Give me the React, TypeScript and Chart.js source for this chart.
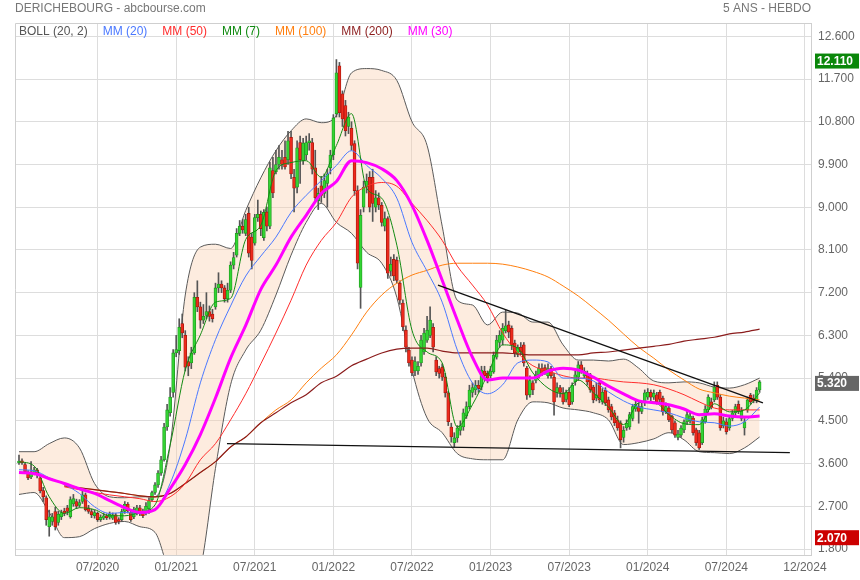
import React, { useEffect, useRef } from 'react';
import { Chart, registerables } from 'chart.js';

Chart.register(...registerables);

// ---- weekly candles (index 0 = first week shown) ----
const OPEN = [
  3.62,3.66,3.58,3.40,3.32,3.40,3.47,3.30,3.03,2.88,
  2.27,2.38,2.59,2.36,2.48,2.60,2.67,2.48,2.75,2.80,
  2.72,2.80,2.94,2.67,2.59,2.50,2.55,2.42,2.45,2.50,
  2.47,2.45,2.52,2.42,2.42,2.59,2.74,2.57,2.48,2.57,
  2.67,2.60,2.57,2.65,2.84,2.99,3.15,3.40,3.68,4.37,
  4.67,5.10,5.93,5.98,6.55,6.30,5.75,5.72,5.93,7.10,
  6.90,6.62,6.72,6.80,6.75,6.90,7.30,7.38,7.30,7.07,
  7.25,7.78,7.99,8.45,8.60,8.45,8.87,8.37,8.24,8.78,
  8.85,8.36,8.90,8.60,9.77,9.75,9.90,10.00,10.05,10.00,
  10.47,9.63,9.42,10.36,9.98,10.10,10.36,10.36,9.83,9.14,
  9.45,9.29,9.50,9.83,10.10,10.97,11.98,11.39,11.14,10.70,
  10.66,10.34,9.35,7.31,9.00,9.42,9.63,9.63,9.00,9.20,
  9.04,8.60,8.76,7.65,7.90,7.88,7.40,6.98,6.41,5.99,
  5.78,5.55,5.55,5.72,5.95,6.20,6.30,6.47,5.78,5.60,
  5.63,5.42,5.09,4.37,4.04,4.14,4.30,4.37,4.60,4.80,
  5.10,5.15,5.25,5.21,5.55,5.50,5.45,5.53,5.84,6.15,
  6.20,6.40,6.52,6.45,6.14,5.90,6.05,6.10,5.61,5.05,
  5.30,5.35,5.47,5.60,5.62,5.45,5.60,5.42,5.10,5.20,
  5.09,4.95,5.10,4.90,5.32,5.42,5.68,5.45,5.47,5.47,
  5.21,4.98,5.30,4.90,5.15,4.94,4.80,4.67,4.52,4.46,
  4.15,4.35,4.37,4.55,4.75,4.80,4.70,4.88,5.00,5.10,
  5.00,5.05,5.10,4.98,4.70,4.77,4.60,4.46,4.15,4.20,
  4.31,4.48,4.50,4.56,4.31,4.25,4.04,4.48,4.73,4.90,
  4.94,5.25,5.00,4.40,4.48,4.35,4.55,4.67,4.85,4.55,
  4.35,4.73,5.04,4.98,4.92,5.15,
];
const HIGH = [
  3.78,3.70,3.62,3.45,3.64,3.52,3.50,3.35,3.10,2.92,
  2.62,2.55,2.68,2.60,2.62,2.66,2.72,2.90,2.95,2.85,
  2.84,3.02,2.98,2.72,2.64,2.62,2.58,2.52,2.56,2.54,
  2.58,2.56,2.55,2.46,2.64,2.80,2.78,2.60,2.68,2.72,
  2.72,2.64,2.78,2.88,3.02,3.20,3.45,3.75,4.45,4.85,
  5.20,6.00,6.30,6.65,6.75,6.40,5.85,6.05,7.20,7.45,
  7.00,6.95,7.20,6.92,6.85,7.40,7.62,7.45,7.35,7.40,
  7.85,8.05,8.55,8.72,8.75,8.85,9.00,8.45,8.85,9.15,
  8.92,8.95,9.00,9.95,10.05,10.20,10.30,10.20,10.40,10.60,
  10.60,9.80,10.40,10.50,10.45,10.50,10.55,10.45,10.20,9.40,
  9.65,9.70,9.80,10.20,10.95,12.11,12.05,11.45,11.25,11.00,
  10.80,10.40,9.45,8.95,9.55,9.70,9.75,9.80,9.35,9.30,
  9.10,8.90,8.80,7.95,8.00,7.95,7.45,7.05,6.50,6.05,
  5.85,5.85,5.75,6.30,6.45,6.70,6.90,6.55,5.85,5.65,
  5.70,5.50,5.12,4.45,4.25,4.40,4.50,4.75,4.90,5.25,
  5.30,5.35,5.35,5.65,5.65,5.55,5.65,5.95,6.30,6.40,
  6.55,6.83,6.60,6.50,6.20,6.10,6.15,6.15,5.65,5.45,
  5.35,5.55,5.70,5.70,5.68,5.70,5.65,5.50,5.30,5.25,
  5.20,5.15,5.20,5.30,5.55,5.75,5.75,5.62,5.55,5.50,
  5.25,5.30,5.35,5.18,5.20,5.00,4.85,4.72,4.60,4.50,
  4.38,4.52,4.68,4.85,4.95,4.88,4.90,5.15,5.18,5.15,
  5.15,5.10,5.15,5.02,4.88,4.82,4.62,4.50,4.30,4.40,
  4.52,4.70,4.68,4.60,4.35,4.30,4.58,4.82,5.05,4.98,
  5.32,5.32,5.05,4.58,4.55,4.60,4.72,4.85,4.92,4.78,
  4.55,5.00,5.08,5.05,5.20,5.35,
];
const LOW = [
  3.58,3.58,3.40,3.26,3.28,3.36,3.30,2.98,2.80,2.30,
  2.07,2.30,2.20,2.30,2.42,2.50,2.52,2.45,2.70,2.65,
  2.68,2.76,2.60,2.55,2.46,2.45,2.38,2.38,2.42,2.42,
  2.43,2.42,2.32,2.33,2.38,2.55,2.56,2.38,2.44,2.52,
  2.50,2.46,2.52,2.55,2.80,2.95,3.10,3.35,3.65,4.30,
  4.60,5.00,5.85,5.90,6.25,5.55,5.45,5.60,5.90,6.80,
  6.45,6.55,6.65,6.60,6.58,6.85,7.20,7.20,7.00,7.00,
  7.20,7.70,7.95,8.40,8.45,8.40,7.95,7.70,8.20,8.70,
  8.40,8.30,8.50,8.55,9.20,9.70,9.80,9.80,9.80,9.90,
  9.60,8.90,9.30,9.50,9.90,10.00,10.20,9.70,9.10,8.95,
  9.10,9.20,9.00,9.70,10.00,10.90,10.90,10.70,10.50,10.55,
  10.20,9.25,7.70,6.87,8.90,9.30,8.90,8.70,8.90,8.95,
  8.60,8.50,7.50,7.55,7.45,7.40,6.95,6.40,5.95,5.65,
  5.45,5.45,5.48,5.65,5.90,6.15,6.25,5.95,5.45,5.40,
  5.35,5.00,4.40,4.05,3.95,4.05,4.20,4.30,4.55,4.75,
  5.00,5.05,5.10,5.15,5.35,5.30,5.40,5.50,5.80,6.05,
  6.10,6.35,6.25,6.00,5.85,5.85,5.90,5.65,4.95,5.00,
  5.05,5.30,5.40,5.45,5.48,5.40,5.40,4.62,5.00,5.00,
  4.85,4.90,4.80,4.85,5.25,5.35,5.50,5.40,5.25,5.10,
  4.88,4.92,4.88,4.85,4.82,4.68,4.52,4.40,4.30,3.93,
  4.05,4.30,4.32,4.50,4.70,4.45,4.65,4.82,4.95,4.92,
  4.95,4.85,4.88,4.62,4.65,4.48,4.25,4.15,4.10,4.15,
  4.25,4.42,4.45,4.20,3.98,3.90,4.00,4.45,4.68,4.75,
  4.90,4.95,4.30,4.35,4.22,4.30,4.50,4.62,4.65,4.50,
  4.20,4.68,4.85,4.88,4.88,5.10,
];
const CLOSE = [
  3.65,3.62,3.43,3.30,3.40,3.47,3.38,3.03,2.90,2.42,
  2.48,2.48,2.27,2.53,2.57,2.55,2.59,2.84,2.86,2.70,
  2.78,2.94,2.63,2.59,2.52,2.57,2.42,2.47,2.50,2.46,
  2.53,2.52,2.36,2.38,2.59,2.74,2.60,2.42,2.63,2.67,
  2.55,2.50,2.70,2.82,2.99,3.15,3.40,3.68,4.37,4.73,
  5.00,5.93,6.00,6.47,6.35,5.63,5.65,5.93,7.10,6.90,
  6.62,6.70,6.80,6.70,6.65,7.30,7.38,7.30,7.07,7.25,
  7.78,7.94,8.45,8.60,8.52,8.74,8.03,7.88,8.78,8.85,
  8.55,8.89,8.60,9.83,9.30,9.90,10.05,9.90,9.85,10.40,
  9.70,9.40,10.25,10.00,10.35,10.36,10.40,9.80,9.20,9.29,
  9.25,9.56,9.70,10.10,10.88,11.83,10.99,10.86,10.61,10.90,
  10.30,9.35,7.82,8.83,9.42,9.55,9.00,9.08,9.20,9.05,
  8.68,8.76,7.61,7.80,7.55,7.46,7.04,6.48,6.05,5.72,
  5.51,5.75,5.65,6.20,6.35,6.41,6.62,6.05,5.53,5.50,
  5.42,5.09,4.48,4.16,4.14,4.35,4.40,4.67,4.80,5.15,
  5.20,5.25,5.18,5.57,5.45,5.40,5.55,5.88,6.20,6.30,
  6.45,6.50,6.37,6.10,5.93,6.05,5.95,5.72,5.04,5.35,
  5.15,5.47,5.61,5.50,5.55,5.60,5.45,4.90,5.20,5.10,
  4.90,5.10,4.84,5.25,5.47,5.68,5.55,5.55,5.32,5.15,
  4.94,5.05,4.94,5.10,4.88,4.73,4.58,4.46,4.35,4.10,
  4.30,4.45,4.63,4.80,4.85,4.70,4.80,5.09,5.10,5.00,
  5.08,4.90,4.95,4.69,4.80,4.52,4.31,4.20,4.22,4.35,
  4.48,4.63,4.60,4.25,4.04,3.93,4.52,4.75,5.00,4.80,
  5.21,5.00,4.35,4.50,4.27,4.55,4.67,4.80,4.70,4.70,
  4.48,4.94,4.90,4.92,5.15,5.32,
];

// ---- indicator lines, one value every LINE_STEP weeks ----
const LINE_STEP = 5;
const MM7 = [
  3.64,3.55,2.90,2.55,2.67,2.63,2.50,2.50,2.57,2.73,
  3.99,5.57,6.31,7.00,7.08,8.32,8.62,9.77,9.94,9.98,
  9.63,10.30,10.97,9.40,9.19,8.20,6.41,5.95,5.72,4.37,
  4.84,5.47,6.10,6.03,5.51,5.19,5.07,5.36,5.09,4.79,
  4.42,4.88,4.90,4.63,4.44,4.42,4.86,4.69,4.73,5.09,
];
const MM20 = [
  3.47,3.45,3.30,3.16,2.97,2.69,2.55,2.57,2.55,2.63,
  3.18,4.10,5.30,6.21,6.92,7.55,7.97,8.37,8.89,9.25,
  9.56,9.88,10.19,9.88,9.61,9.19,8.26,7.65,7.00,5.99,
  5.30,5.07,5.26,5.72,5.78,5.74,5.40,5.40,5.34,5.11,
  4.92,4.79,4.73,4.67,4.56,4.48,4.46,4.39,4.48,4.79,
];
const MM30 = [
  3.41,3.39,3.28,3.18,3.07,2.97,2.82,2.67,2.57,2.63,
  3.07,3.58,4.21,4.98,5.82,6.51,7.27,7.78,8.37,8.83,
  9.29,9.54,9.98,9.94,9.81,9.56,9.04,8.30,7.46,6.62,
  5.84,5.36,5.40,5.40,5.40,5.55,5.61,5.57,5.42,5.23,
  5.07,4.92,4.88,4.84,4.75,4.63,4.65,4.60,4.58,4.60,
];
const MM50 = [
  null,null,null,3.11,3.05,2.99,2.94,2.90,2.86,2.80,
  2.90,3.18,3.68,4.02,4.52,5.07,5.70,6.35,7.04,7.78,
  8.30,8.68,9.21,9.44,9.52,9.44,9.08,8.72,8.30,7.76,
  7.36,6.94,6.35,5.93,5.66,5.55,5.45,5.40,5.40,5.36,
  5.32,5.30,5.26,5.17,5.05,4.90,4.77,4.73,4.73,4.73,
];
const MM100 = [
  null,null,null,3.13,3.09,3.05,3.01,2.97,2.92,2.90,
  2.97,3.18,3.41,3.64,3.95,4.16,4.46,4.73,4.94,5.30,
  5.61,5.89,6.31,6.79,7.15,7.40,7.57,7.67,7.78,7.82,
  7.82,7.82,7.80,7.74,7.65,7.53,7.34,7.13,6.88,6.62,
  6.33,6.05,5.82,5.57,5.36,5.17,5.09,5.02,4.98,4.94,
];
const MM200 = [
  null,null,null,3.13,3.09,3.05,3.01,2.97,2.92,2.90,
  2.97,3.18,3.41,3.64,3.95,4.16,4.46,4.67,4.88,5.05,
  5.30,5.44,5.66,5.80,5.93,6.01,6.03,6.03,5.97,5.93,
  5.93,5.93,5.93,5.91,5.89,5.89,5.89,5.89,5.93,5.95,
  5.99,6.03,6.07,6.11,6.18,6.22,6.26,6.33,6.37,6.43,
];
const BOLL_UP = [
  3.85,3.85,4.02,4.14,3.93,3.18,2.90,2.88,2.90,2.90,
  3.99,7.15,8.16,8.22,8.13,8.93,9.62,10.19,10.61,10.86,
  10.78,10.93,11.83,11.92,11.88,11.67,10.80,10.30,8.60,7.04,
  6.94,6.52,6.79,6.77,6.58,6.58,6.10,5.78,5.78,5.76,
  5.80,5.61,5.34,5.30,5.32,5.30,5.21,5.19,5.26,5.40,
];
const BOLL_LOW = [
  2.95,2.99,2.57,2.04,2.06,2.23,2.34,2.38,2.27,2.15,
  1.26,0.74,1.37,3.50,5.26,5.99,6.41,7.15,7.99,8.68,
  9.08,8.68,8.45,8.05,7.82,7.10,5.57,4.56,4.25,3.81,
  3.70,3.68,3.68,4.52,4.90,4.88,4.77,4.73,4.67,4.52,
  4.00,4.04,4.12,4.25,4.10,3.85,3.83,3.81,3.93,4.16,
];

// ---- hand-drawn trend lines: [week, price] end points ----
const TREND_DOWN = [[138.6, 7.36], [246.1, 4.88]];
const TREND_FLAT = [[68.8, 4.02], [255.0, 3.83]];

// ---- axes ----
const X_TICK_WEEKS = [26, 52, 78, 104, 130, 156, 182, 208, 234, 260];
const X_TICK_LABELS = ['07/2020', '01/2021', '07/2021', '01/2022', '07/2022', '01/2023', '07/2023', '01/2024', '07/2024', '12/2024'];
const Y_TICKS = [1.8, 2.7, 3.6, 4.5, 5.4, 6.3, 7.2, 8.1, 9.0, 9.9, 10.8, 11.7, 12.6];

const TITLE = 'DERICHEBOURG - abcbourse.com';
const PERIOD = '5 ANS - HEBDO';
const LEGEND_LABELS = ['BOLL (20, 2)', 'MM (20)', 'MM (50)', 'MM (7)', 'MM (100)', 'MM (200)', 'MM (30)'];
const LEGEND_COLORS = ['#555555', '#4a78ff', '#ff2d2d', '#118a11', '#ff7f0f', '#8b1c1c', '#ff00ff'];

const FONT_FAMILY = '"Liberation Sans", Arial, sans-serif';
const C_UP = '#33d433';
const C_UP_EDGE = '#1f9a1f';
const C_DOWN = '#ee2a1c';
const C_DOWN_EDGE = '#a8180e';

const pts = (arr: (number | null)[]) => arr.map((v, k) => ({ x: k * LINE_STEP, y: v }));
const seg = (p: number[][]) => p.map(([x, y]) => ({ x, y }));

const overlay = {
  id: 'overlay',
  afterDraw(chart: any) {
    const { ctx, chartArea: a, scales } = chart;
    const y = scales.y;
    ctx.save();
    ctx.strokeStyle = '#cfcfcf';
    ctx.lineWidth = 1;
    ctx.beginPath();
    ctx.moveTo(a.left + 0.5, a.bottom);
    ctx.lineTo(a.left + 0.5, a.top + 0.5);
    ctx.lineTo(a.right, a.top + 0.5);
    ctx.stroke();

    ctx.font = `12px ${FONT_FAMILY}`;
    ctx.textBaseline = 'middle';
    ctx.fillStyle = '#777777';
    ctx.textAlign = 'left';
    ctx.fillText(TITLE, a.left, 9);
    ctx.textAlign = 'right';
    ctx.fillText(PERIOD, a.right, 9);

    ctx.textAlign = 'left';
    let x = a.left + 4;
    LEGEND_LABELS.forEach((t, i) => {
      ctx.fillStyle = LEGEND_COLORS[i];
      ctx.fillText(t, x, a.top + 9);
      x += ctx.measureText(t).width + 15;
    });

    const badge = (v: number, bg: string) => {
      const py = y.getPixelForValue(v) + 1.5;
      ctx.fillStyle = bg;
      ctx.fillRect(a.right + 4, py - 7.5, 44, 15);
      ctx.fillStyle = '#ffffff';
      ctx.font = `bold 12px ${FONT_FAMILY}`;
      ctx.textAlign = 'left';
      ctx.fillText(v.toFixed(3), a.right + 6, py + 0.5);
    };
    badge(Math.max(...HIGH), '#0a870a');
    badge(CLOSE[CLOSE.length - 1], '#666666');
    badge(Math.min(...LOW), '#cc0000');
    ctx.restore();
  },
};

export default function App() {
  const ref = useRef<HTMLCanvasElement>(null);
  useEffect(() => {
    if (!ref.current) return;
    const up = OPEN.map((o, i) => CLOSE[i] >= o);
    const lineDs = (label: string, data: any[], color: string, width: number, order: number) => ({
      type: 'line' as const,
      label,
      data,
      borderColor: color,
      borderWidth: width,
      pointRadius: 0,
      fill: false,
      cubicInterpolationMode: 'monotone' as const,
      spanGaps: false,
      order,
    });
    const chart = new Chart(ref.current, {
      type: 'bar',
      data: {
        datasets: [
          { ...lineDs('trend1', seg(TREND_DOWN), '#111111', 1.3, 0), cubicInterpolationMode: 'default' as const },
          { ...lineDs('trend2', seg(TREND_FLAT), '#111111', 1.3, 0), cubicInterpolationMode: 'default' as const },
          lineDs('MM30', pts(MM30), '#ff00ff', 3, 1),
          lineDs('MM7', pts(MM7), '#138a13', 1, 2),
          lineDs('MM20', pts(MM20), '#4a78ff', 1, 3),
          lineDs('MM50', pts(MM50), '#ff2d2d', 1, 4),
          lineDs('MM200', pts(MM200), '#8b1c1c', 1.2, 5),
          lineDs('MM100', pts(MM100), '#ff7f0f', 1, 6),
          {
            type: 'bar' as const,
            label: 'body',
            data: OPEN.map((o, i) => ({ x: i, y: [o, CLOSE[i]] })),
            backgroundColor: up.map((u) => (u ? C_UP : C_DOWN)),
            borderColor: up.map((u) => (u ? C_UP_EDGE : C_DOWN_EDGE)),
            borderWidth: 0.8,
            borderSkipped: false,
            barThickness: 3,
            minBarLength: 1,
            grouped: false,
            order: 7,
          },
          {
            type: 'bar' as const,
            label: 'wick',
            data: HIGH.map((h, i) => ({ x: i, y: [LOW[i], h] })),
            backgroundColor: '#555555',
            barThickness: 1,
            grouped: false,
            order: 8,
          },
          {
            ...lineDs('BOLL up', pts(BOLL_UP), '#5a5a5a', 1, 9),
            fill: '+1',
            backgroundColor: 'rgba(250, 205, 172, 0.38)',
          },
          lineDs('BOLL low', pts(BOLL_LOW), '#5a5a5a', 1, 10),
        ],
      },
      options: {
        animation: false,
        responsive: false,
        devicePixelRatio: 1,
        layout: { padding: { top: 23, left: 15, right: 0, bottom: 0 } },
        plugins: {
          legend: { display: false },
          tooltip: { enabled: false },
          filler: { drawTime: 'beforeDatasetsDraw' },
        } as any,
        scales: {
          x: {
            type: 'linear',
            min: -1.32,
            max: 262,
            offset: false,
            afterBuildTicks: (s: any) => {
              s.ticks = X_TICK_WEEKS.map((v) => ({ value: v }));
            },
            afterFit: (s: any) => {
              s.height = 25;
            },
            ticks: {
              autoSkip: false,
              maxRotation: 0,
              padding: 5,
              color: '#666666',
              font: { family: FONT_FAMILY, size: 12 },
              callback: (v: any) => {
                const i = X_TICK_WEEKS.indexOf(Number(v));
                return i >= 0 ? X_TICK_LABELS[i] : '';
              },
            },
            grid: { color: '#dddddd', drawTicks: false, offset: false },
            border: { display: true, color: '#cfcfcf' },
          },
          y: {
            type: 'linear',
            position: 'right',
            min: 1.674,
            max: 12.88,
            afterBuildTicks: (s: any) => {
              s.ticks = Y_TICKS.map((v) => ({ value: v }));
            },
            afterFit: (s: any) => {
              s.width = 49;
            },
            ticks: {
              padding: 7,
              color: '#666666',
              font: { family: FONT_FAMILY, size: 12 },
              callback: (v: any) => Number(v).toFixed(3),
            },
            grid: { color: '#dddddd', drawTicks: false },
            border: { display: true, color: '#cfcfcf' },
          },
        },
      } as any,
      plugins: [overlay],
    });
    return () => chart.destroy();
  }, []);

  return (
    <div style={{ position: 'absolute', left: 0, top: 0, width: 860, height: 580, background: '#ffffff' }}>
      <canvas ref={ref} width={860} height={580} style={{ display: 'block', width: 860, height: 580 }} />
    </div>
  );
}
